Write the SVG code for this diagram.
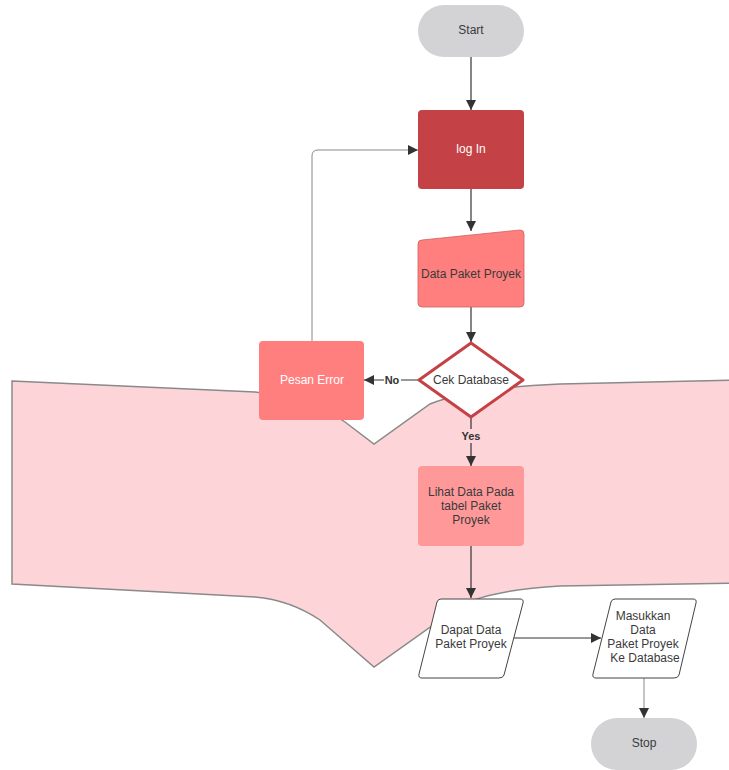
<svg xmlns="http://www.w3.org/2000/svg" width="729" height="770" viewBox="0 0 729 770">
  <style>
    text { font-family: "Liberation Sans", Arial, sans-serif; font-size: 12px; text-anchor: middle; dominant-baseline: central; }
    .dark { fill: #3a3a3a; }
    .light { fill: #ffffff; }
    .lbl { font-weight: bold; font-size: 11px; fill: #333333; }
    .edge { fill: none; stroke: #333333; stroke-width: 1.2; }
    .edge-soft { fill: none; stroke: #888888; stroke-width: 1; }
  </style>
  <defs>
    <marker id="arrow" viewBox="0 0 10 10" refX="10" refY="5" markerWidth="10" markerHeight="10" markerUnits="userSpaceOnUse" orient="auto">
      <path d="M0,0 L10,5 L0,10 z" fill="#333333"/>
    </marker>
  </defs>

  <!-- background banner, running off the right edge -->
  <g id="banner">
    <path d="M12,381 L255,392 Q310,398 345,422 L374,444 L430,404 Q470,388 560,384 L745,380 L745,583 L560,586 Q490,590 460,606 L374,667 L320,620 Q290,600 255,597 L12,584 Z" fill="#FDD5D9" stroke="#8a8a8a" stroke-width="1.5"/>
  </g>

  <!-- connectors -->
  <g id="connectors">
    <line class="edge" x1="471" y1="57" x2="471" y2="110" marker-end="url(#arrow)"/>
    <line class="edge" x1="471" y1="189" x2="471" y2="231" marker-end="url(#arrow)"/>
    <line class="edge" x1="471" y1="307" x2="471" y2="342" marker-end="url(#arrow)"/>
    <line class="edge" x1="418" y1="380" x2="364" y2="380" marker-end="url(#arrow)"/>
    <path class="edge-soft" d="M312,341 L312,156 Q312,150 318,150 L418,150" marker-end="url(#arrow)"/>
    <line class="edge" x1="471" y1="418" x2="471" y2="466" marker-end="url(#arrow)"/>
    <line class="edge" x1="471" y1="546" x2="471" y2="598" marker-end="url(#arrow)"/>
    <line class="edge" x1="514" y1="638" x2="601" y2="638" marker-end="url(#arrow)"/>
    <line class="edge-soft" x1="644" y1="678" x2="644" y2="718" marker-end="url(#arrow)"/>
    <rect x="384" y="373" width="17" height="14" fill="#ffffff"/>
    <text class="lbl" x="392" y="380">No</text>
    <rect x="459" y="429" width="24" height="14" fill="#FDD5D9"/>
    <text class="lbl" x="471" y="436">Yes</text>
  </g>

  <g id="start">
    <rect x="418" y="5" width="106" height="52" rx="26" fill="#D3D3D6"/>
    <text class="dark" x="471" y="30">Start</text>
  </g>

  <g id="login">
    <rect x="418" y="110" width="106" height="79" rx="4" fill="#C44245"/>
    <text class="light" x="471" y="149">log In</text>
  </g>

  <g id="data-paket">
    <path d="M422,240 L520,230 Q524,230 524,234 L524,303 Q524,307 520,307 L422,307 Q418,307 418,303 L418,244 Q418,240 422,240 Z" fill="#FF7F7F" stroke="#d06060" stroke-width="0.8"/>
    <text class="dark" x="471" y="274">Data Paket Proyek</text>
  </g>

  <g id="cek-database">
    <path d="M471,343 L523,380 L471,417 L419,380 Z" fill="#ffffff" stroke="#C44245" stroke-width="3" stroke-linejoin="round"/>
    <text class="dark" x="471" y="380">Cek Database</text>
  </g>

  <g id="pesan-error">
    <rect x="259" y="341" width="105" height="79" rx="4" fill="#FF7F7F"/>
    <text class="light" x="312" y="380">Pesan Error</text>
  </g>

  <g id="lihat-data">
    <rect x="418" y="466" width="106" height="80" rx="4" fill="#FF9999"/>
    <text class="dark" x="471" y="492">Lihat Data Pada</text>
    <text class="dark" x="471" y="506">tabel Paket</text>
    <text class="dark" x="471" y="520">Proyek</text>
  </g>

  <g id="dapat-data">
    <path d="M441,599 L520,599 Q524,599 523,603 L504,675 Q503,678 499,678 L422,678 Q418,678 419,674 L437,602 Q438,599 441,599 Z" fill="#ffffff" stroke="#444444" stroke-width="1"/>
    <text class="dark" x="471" y="630">Dapat Data</text>
    <text class="dark" x="471" y="644">Paket Proyek</text>
  </g>

  <g id="masukkan">
    <path d="M615,599 L693,599 Q697,599 696,603 L679,675 Q678,678 674,678 L596,678 Q592,678 593,674 L611,602 Q612,599 615,599 Z" fill="#ffffff" stroke="#444444" stroke-width="1"/>
    <text class="dark" x="643" y="616">Masukkan</text>
    <text class="dark" x="643" y="630">Data</text>
    <text class="dark" x="643" y="644">Paket Proyek</text>
    <text class="dark" x="645" y="658">Ke Database</text>
  </g>

  <g id="stop">
    <rect x="591" y="718" width="106" height="52" rx="26" fill="#D3D3D6"/>
    <text class="dark" x="644" y="743">Stop</text>
  </g>
</svg>
